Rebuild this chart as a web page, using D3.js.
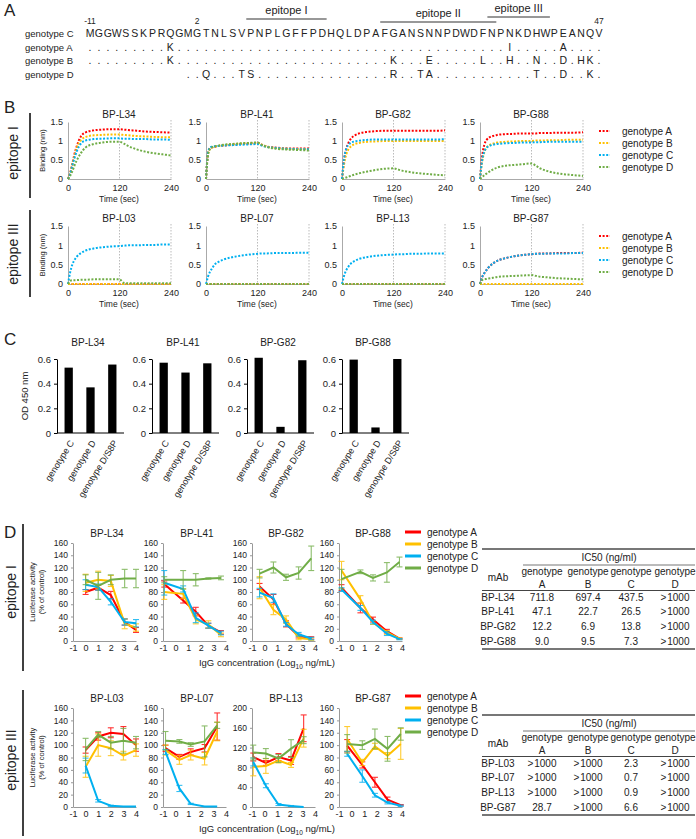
<!DOCTYPE html>
<html>
<head>
<meta charset="utf-8">
<script src="https://cdn.jsdelivr.net/npm/d3@7"></script>
<style>
body { margin: 0; background: #fff; }
svg text { font-family: 'Liberation Sans', Arial, Helvetica, sans-serif; fill: #222; }
</style>
</head>
<body>
<div id="fig"></div>
<script>
// ---------- data ----------
var genoNames = ['genotype A', 'genotype B', 'genotype C', 'genotype D']
var genoColors = ['#ff0000', '#ffc000', '#00b0f0', '#70ad47']

// A: preS1 alignment (index 0 = residue -11)
var seqRef = 'MGGWSSKPRQGMGTNLSVPNPLGFFPDHQLDPAFGANSNNPDWDFNPNKDHWPEANQV'
var alignRows = ['genotype C', 'genotype A', 'genotype B', 'genotype D']
var alignStart = [0, 0, 0, 11]
var alignSubs = [
  {},
  { 9: 'K', 47: 'I', 53: 'A' },
  { 9: 'K', 34: 'K', 38: 'E', 44: 'L', 47: 'H', 50: 'N', 53: 'D', 55: 'H', 56: 'K' },
  { 13: 'Q', 17: 'T', 18: 'S', 34: 'R', 37: 'T', 38: 'A', 50: 'T', 53: 'D', 56: 'K' }
]
var residueMarks = [{ i: 0, label: '-11' }, { i: 12, label: '2' }, { i: 57, label: '47' }]
var epitopes = [
  { name: 'epitope I', from: 18, to: 26 },
  { name: 'epitope II', from: 33, to: 45 },
  { name: 'epitope III', from: 45, to: 51 }
]

// B: binding (nm) over time (sec), series A, B, C, D
var bTimes = [0, 5, 10, 15, 20, 30, 40, 60, 80, 100, 120, 130, 140, 160, 180, 200, 220, 240]
var bindL34 = [
  [0, .15, .4, .65, .85, 1.12, 1.22, 1.28, 1.3, 1.31, 1.31, 1.3, 1.29, 1.27, 1.25, 1.24, 1.23, 1.22],
  [0, .15, .38, .6, .8, 1.02, 1.1, 1.15, 1.16, 1.17, 1.17, 1.16, 1.15, 1.13, 1.12, 1.11, 1.1, 1.1],
  [0, .13, .35, .55, .72, .93, 1.01, 1.05, 1.06, 1.07, 1.07, 1.06, 1.06, 1.05, 1.05, 1.04, 1.04, 1.03],
  [0, .08, .2, .35, .48, .68, .82, .92, .96, .98, .98, .93, .87, .78, .72, .68, .65, .62]
]
var bindL41 = [
  [0, .7, .82, .84, .85, .87, .88, .9, .92, .93, .94, .9, .86, .83, .81, .8, .8, .8],
  [0, .68, .8, .83, .85, .87, .89, .91, .93, .94, .95, .9, .86, .82, .8, .79, .79, .78],
  [0, .72, .83, .85, .86, .87, .88, .89, .9, .91, .92, .88, .85, .82, .8, .79, .78, .78],
  [0, .65, .8, .84, .86, .88, .9, .92, .94, .95, .96, .9, .85, .8, .78, .77, .76, .75]
]
var bindG82 = [
  [0, .5, .8, .95, 1.05, 1.15, 1.2, 1.24, 1.26, 1.27, 1.27, 1.27, 1.27, 1.27, 1.27, 1.27, 1.27, 1.28],
  [0, .4, .65, .78, .85, .92, .95, .98, .99, 1.0, 1.0, 1.0, 1.0, 1.0, 1.0, 1.0, 1.0, 1.0],
  [0, .55, .8, .9, .95, .99, 1.01, 1.03, 1.04, 1.04, 1.04, 1.04, 1.04, 1.04, 1.04, 1.04, 1.04, 1.05],
  [0, .02, .04, .06, .08, .12, .15, .2, .24, .27, .28, .25, .22, .18, .15, .13, .11, .1]
]
var bindG88 = [
  [0, .6, .9, 1.02, 1.08, 1.13, 1.16, 1.18, 1.19, 1.2, 1.2, 1.2, 1.21, 1.21, 1.22, 1.22, 1.22, 1.23],
  [0, .45, .7, .82, .88, .93, .96, .98, .99, 1.0, 1.0, 1.01, 1.01, 1.02, 1.02, 1.03, 1.03, 1.03],
  [0, .5, .72, .82, .86, .9, .92, .94, .95, .96, .96, .97, .97, .98, .98, .98, .98, .98],
  [0, .05, .1, .14, .18, .25, .3, .35, .37, .39, .41, .35, .28, .2, .15, .12, .1, .08]
]
var bindL03 = [
  [0, 0, 0, 0, 0, 0, 0, 0, 0, 0, 0, 0, 0, 0, 0, 0, 0, 0],
  [0, 0, 0, 0, 0, 0, 0, 0, 0, 0, 0, 0, 0, 0, 0, 0, 0, 0],
  [0, .3, .5, .62, .7, .8, .86, .92, .95, .97, .98, .99, 1.0, 1.0, 1.01, 1.01, 1.02, 1.02],
  [0, .08, .1, .1, .1, .11, .11, .12, .12, .12, .12, .03, .02, .02, .02, .02, .02, .02]
]
var bindL07 = [
  [0, 0, 0, 0, 0, 0, 0, 0, 0, 0, 0, 0, 0, 0, 0, 0, 0, 0],
  [0, 0, 0, 0, 0, 0, 0, 0, 0, 0, 0, 0, 0, 0, 0, 0, 0, 0],
  [0, .2, .33, .42, .5, .58, .63, .69, .73, .76, .78, .79, .79, .8, .8, .8, .81, .81],
  [0, 0, 0, 0, 0, 0, 0, 0, 0, 0, 0, 0, 0, 0, 0, 0, 0, 0]
]
var bindL13 = [
  [0, 0, 0, 0, 0, 0, 0, 0, 0, 0, 0, 0, 0, 0, 0, 0, 0, 0],
  [0, 0, 0, 0, 0, 0, 0, 0, 0, 0, 0, 0, 0, 0, 0, 0, 0, 0],
  [0, .22, .36, .45, .52, .6, .65, .7, .73, .75, .76, .77, .77, .78, .78, .79, .79, .79],
  [0, 0, 0, 0, 0, 0, 0, 0, 0, 0, 0, 0, 0, 0, 0, 0, 0, 0]
]
var bindG87 = [
  [0, .18, .28, .36, .43, .53, .6, .67, .72, .75, .77, .78, .79, .79, .8, .8, .8, .81],
  [0, 0, 0, 0, 0, 0, 0, 0, 0, 0, 0, 0, 0, 0, 0, 0, 0, 0],
  [0, .18, .28, .36, .43, .53, .6, .67, .72, .75, .77, .78, .78, .79, .79, .79, .8, .8],
  [0, .1, .12, .13, .14, .16, .18, .2, .21, .22, .23, .21, .19, .17, .15, .14, .13, .12]
]

// C: OD 450 nm
var odCats = ['genotype C', 'genotype D', 'genotype D/S8P']
var odMabs = ['BP-L34', 'BP-L41', 'BP-G82', 'BP-G88']
var odValues = [
  [0.53, 0.37, 0.555],
  [0.57, 0.49, 0.565],
  [0.61, 0.05, 0.59],
  [0.595, 0.045, 0.60]
]

// D: luciferase activity (% of control) vs log10 IgG
var neutL34x = [0, 1, 2, 3.1, 4]
var neutL34 = [[80, 87, 75, 31, 18], [95, 100, 98, 28, 22], [92, 88, 64, 31, 29], [100, 90, 100, 102, 102]]
var neutL34err = [[4, 4, 6, 5, 4], [14, 14, 9, 8, 6], [8, 5, 5, 5, 6], [8, 22, 8, 15, 15]]
var neutL41x = [-0.9, 0.6, 1.6, 2.6, 3.6]
var neutL41 = [[93, 66, 48, 25, 14], [80, 77, 35, 27, 10], [95, 85, 38, 25, 13], [100, 100, 100, 102, 103]]
var neutL41err = [[5, 4, 7, 4, 3], [12, 8, 7, 6, 3], [20, 5, 8, 4, 3], [5, 15, 10, 1, 3]]
var neutG82x = [-0.4, 0.7, 1.7, 2.7, 3.7]
var neutG82 = [[89, 68, 28, 8, 5], [87, 51, 35, 5, 3], [79, 70, 27, 11, 4], [110, 120, 104, 111, 135]]
var neutG82err = [[5, 8, 5, 3, 2], [18, 8, 6, 3, 2], [7, 7, 3, 3, 2], [7, 9, 5, 10, 20]]
var neutG88x = [-0.8, 0.7, 1.7, 2.8, 3.8]
var neutG88 = [[87, 54, 35, 16, 4], [115, 68, 30, 14, 4], [84, 54, 31, 12, 3], [101, 113, 103, 112, 129]]
var neutG88err = [[5, 8, 4, 3, 1], [15, 6, 3, 3, 1], [3, 4, 3, 3, 1], [16, 3, 5, 16, 8]]
var neutL03x = [0, 1, 2, 3, 4]
var neutL03 = [[92, 114, 120, 118, 100], [65, 100, 95, 83, 92], [67, 10, 2, 1, 1], [93, 117, 104, 107, 104]]
var neutL03err = [[5, 6, 8, 12, 10], [17, 18, 12, 7, 10], [12, 2, 1, 0, 0], [18, 5, 10, 20, 10]]
var neutL07x = [-0.8, 0.3, 1.2, 2.3, 3.3]
var neutL07 = [[95, 81, 89, 95, 130], [92, 76, 84, 78, 122], [89, 30, 5, 1, 1], [107, 106, 101, 106, 132]]
var neutL07err = [[5, 4, 5, 6, 22], [8, 7, 8, 10, 15], [4, 5, 1, 0, 0], [15, 3, 3, 25, 5]]
var neutL13x = [-0.9, 0.1, 1.1, 2.1, 3.1]
var neutL13 = [[101, 89, 101, 94, 159], [81, 83, 94, 85, 139], [91, 43, 5, 2, 0], [110, 108, 98, 118, 135]]
var neutL13err = [[8, 5, 7, 8, 27], [18, 15, 5, 5, 18], [8, 4, 2, 1, 0], [15, 10, 8, 18, 7]]
var neutG87x = [-0.35, 0.85, 1.85, 2.85, 3.9]
var neutG87 = [[99, 68, 40, 12, 3], [110, 72, 98, 83, 102], [86, 50, 19, 7, 2], [102, 100, 110, 94, 118]]
var neutG87err = [[10, 5, 8, 4, 1], [20, 5, 5, 5, 25], [4, 10, 3, 2, 1], [15, 7, 16, 20, 10]]

// IC50 tables
var icHead = ['A', 'B', 'C', 'D']
var icMabs1 = ['BP-L34', 'BP-L41', 'BP-G82', 'BP-G88']
var icVals1 = [
  ['711.8', '697.4', '437.5', '>1000'],
  ['47.1', '22.7', '26.5', '>1000'],
  ['12.2', '6.9', '13.8', '>1000'],
  ['9.0', '9.5', '7.3', '>1000']
]
var icMabs3 = ['BP-L03', 'BP-L07', 'BP-L13', 'BP-G87']
var icVals3 = [
  ['>1000', '>1000', '2.3', '>1000'],
  ['>1000', '>1000', '0.7', '>1000'],
  ['>1000', '>1000', '0.9', '>1000'],
  ['28.7', '>1000', '6.6', '>1000']
]

// ---------- svg ----------
var svg = d3.select('#fig')
  .append('svg')
    .attr('width', 696)
    .attr('height', 839)

svg.append('rect').attr('width', 696).attr('height', 839).attr('fill', '#fff')

function txt(g, x, y, s, size, anchor) {
  return g.append('text')
    .attr('x', x).attr('y', y)
    .attr('text-anchor', anchor || 'start')
    .style('font-size', size + 'px')
    .text(s)
}

function vtxt(g, x, y, s, size) {
  return g.append('text')
    .attr('transform', 'translate(' + x + ',' + y + ') rotate(-90)')
    .attr('text-anchor', 'middle')
    .style('font-size', size + 'px')
    .text(s)
}

function styleAxis(a, color, size) {
  a.select('.domain').attr('stroke', color)
  a.selectAll('.tick line').attr('stroke', color)
  a.selectAll('.tick text').style('font-size', size + 'px')
}

// panel letters
txt(svg, 4, 16, 'A', 17)
txt(svg, 4, 113, 'B', 17)
txt(svg, 4, 345, 'C', 17)
txt(svg, 4, 538, 'D', 17)

// ---------- A ----------
var charX = d3.scaleLinear().domain([0, 57]).range([90, 599])
var rowY = d3.scalePoint().domain(alignRows).range([37, 78])
var gA = svg.append('g')

alignRows.forEach(function(name, r) {
  txt(gA, 25, rowY(name), name, 9.5)
  var chars = d3.range(alignStart[r], seqRef.length).map(function(i) {
    return { i: i, c: r === 0 ? seqRef[i] : (alignSubs[r][i] || '.') }
  })
  gA.selectAll('.row' + r)
      .data(chars).enter()
    .append('text')
      .attr('x', function(d) { return charX(d.i) })
      .attr('y', rowY(name))
      .attr('text-anchor', 'middle')
      .style('font-size', '10.5px')
      .text(function(d) { return d.c })
})

gA.selectAll('.mark')
    .data(residueMarks).enter()
  .append('text')
    .attr('x', function(d) { return charX(d.i) })
    .attr('y', 24)
    .attr('text-anchor', 'middle')
    .style('font-size', '8.5px')
    .text(function(d) { return d.label })

var epiLineY = [19, 22, 17]
epitopes.forEach(function(e, k) {
  var x1 = charX(e.from - 0.5), x2 = charX(e.to + 0.5)
  gA.append('line')
    .attr('x1', x1).attr('x2', x2)
    .attr('y1', epiLineY[k]).attr('y2', epiLineY[k])
    .attr('stroke', '#333').attr('stroke-width', 1.2)
  txt(gA, (x1 + x2) / 2, epiLineY[k] - 5, e.name, 11, 'middle')
})

// ---------- B ----------
var bX0 = [68, 206, 342, 480]
var bRowTop = [122, 226]
var bRowZero = [179, 284]
var bPanels = [
  [['BP-L34', bindL34], ['BP-L41', bindL41], ['BP-G82', bindG82], ['BP-G88', bindG88]],
  [['BP-L03', bindL03], ['BP-L07', bindL07], ['BP-L13', bindL13], ['BP-G87', bindG87]]
]

function drawBinding(title, series, col, row) {
  var x0 = bX0[col], yT = bRowTop[row], yZ = bRowZero[row]
  var x = d3.scaleLinear().domain([0, 240]).range([x0, x0 + 103])
  var y = d3.scaleLinear().domain([0, 1.5]).range([yZ, yT])
  var g = svg.append('g')

  g.selectAll('.grid')
      .data([120, 240]).enter()
    .append('line')
      .attr('x1', function(d) { return x(d) })
      .attr('x2', function(d) { return x(d) })
      .attr('y1', yT - 2).attr('y2', yZ)
      .attr('stroke', '#aaa').attr('stroke-width', 0.8)
      .attr('stroke-dasharray', '1.5,1.5')

  var ya = g.append('g')
    .attr('transform', 'translate(' + x0 + ',0)')
    .call(d3.axisLeft(y).tickValues([0, 0.5, 1, 1.5]).tickSize(0).tickSizeOuter(0).tickPadding(5).tickFormat(d3.format('~g')))
  var xa = g.append('g')
    .attr('transform', 'translate(0,' + yZ + ')')
    .call(d3.axisBottom(x).tickValues([0, 120, 240]).tickSize(0).tickSizeOuter(0).tickPadding(6))
  styleAxis(ya, '#aaa', 9)
  styleAxis(xa, '#aaa', 9)

  txt(g, x0 + 51, yT - 4, title, 10, 'middle')
  txt(g, x0 + 51, yZ + 23, 'Time (sec)', 8.5, 'middle')
  if (col === 0) vtxt(g, x0 - 23, (yT + yZ) / 2, 'Binding (nm)', 7.5)

  var line = d3.line()
    .x(function(d, i) { return x(bTimes[i]) })
    .y(function(d) { return y(d) })
    .curve(d3.curveMonotoneX)

  series.forEach(function(s, k) {
    g.append('path')
      .datum(s)
      .attr('d', line)
      .attr('fill', 'none')
      .attr('stroke', genoColors[k])
      .attr('stroke-width', 2)
      .attr('stroke-dasharray', '2,1.6')
  })
}

bPanels.forEach(function(rowPanels, row) {
  rowPanels.forEach(function(p, col) { drawBinding(p[0], p[1], col, row) })
})

var bLegendY = [[131, 143, 155, 167], [236, 248, 260, 272]]
bLegendY.forEach(function(ys) {
  genoNames.forEach(function(n, k) {
    svg.append('line')
      .attr('x1', 599).attr('x2', 610)
      .attr('y1', ys[k]).attr('y2', ys[k])
      .attr('stroke', genoColors[k]).attr('stroke-width', 2.2)
      .attr('stroke-dasharray', '2,1.6')
    txt(svg, 622, ys[k] + 3.5, n, 10)
  })
})

// epitope group markers B
svg.append('line').attr('x1', 30).attr('x2', 30).attr('y1', 113).attr('y2', 198).attr('stroke', '#000').attr('stroke-width', 1.5)
svg.append('line').attr('x1', 30).attr('x2', 30).attr('y1', 210).attr('y2', 297).attr('stroke', '#000').attr('stroke-width', 1.5)
vtxt(svg, 18, 153, 'epitope I', 14)
vtxt(svg, 18, 254, 'epitope III', 14)

// ---------- C ----------
var cX0 = [57, 152, 247, 342]
var cTop = 359, cZero = 433

function drawBars(title, vals, col) {
  var x0 = cX0[col]
  var x = d3.scaleBand().domain(odCats).range([x0 + 1, x0 + 66]).paddingInner(0.62).paddingOuter(0.3)
  var y = d3.scaleLinear().domain([0, 0.6]).range([cZero, cTop])
  var g = svg.append('g')

  var ya = g.append('g')
    .attr('transform', 'translate(' + x0 + ',0)')
    .call(d3.axisLeft(y).tickValues([0, 0.2, 0.4, 0.6]).tickSize(3).tickSizeOuter(0).tickPadding(3)
      .tickFormat(function(d) { return d === 0 ? '0' : d3.format('.1f')(d) }))
  styleAxis(ya, '#000', 9.5)
  g.append('line')
    .attr('x1', x0).attr('x2', x0 + 67)
    .attr('y1', cZero).attr('y2', cZero)
    .attr('stroke', '#000')

  g.selectAll('.bar')
      .data(vals).enter()
    .append('rect')
      .attr('x', function(d, i) { return x(odCats[i]) })
      .attr('y', function(d) { return y(d) })
      .attr('width', x.bandwidth())
      .attr('height', function(d) { return cZero - y(d) })
      .attr('fill', '#000')

  odCats.forEach(function(c) {
    g.append('text')
      .attr('transform', 'translate(' + (x(c) + x.bandwidth() / 2 + 3) + ',' + (cZero + 8) + ') rotate(-58)')
      .attr('text-anchor', 'end')
      .attr('dy', '0.35em')
      .style('font-size', '9px')
      .text(c)
  })

  txt(g, x0 + 31, 346, title, 10, 'middle')
}

odMabs.forEach(function(m, i) { drawBars(m, odValues[i], i) })
vtxt(svg, 28, 396, 'OD 450 nm', 9.5)

// ---------- D ----------
var dX0 = [73, 163, 252, 339]
var dRowTop = [543, 708]
var dRowZero = [641, 807]
var dPanels = [
  [['BP-L34', neutL34x, neutL34, neutL34err, 160], ['BP-L41', neutL41x, neutL41, neutL41err, 160],
   ['BP-G82', neutG82x, neutG82, neutG82err, 160], ['BP-G88', neutG88x, neutG88, neutG88err, 160]],
  [['BP-L03', neutL03x, neutL03, neutL03err, 160], ['BP-L07', neutL07x, neutL07, neutL07err, 160],
   ['BP-L13', neutL13x, neutL13, neutL13err, 200], ['BP-G87', neutG87x, neutG87, neutG87err, 160]]
]

function drawNeut(p, col, row) {
  var title = p[0], xs = p[1], vals = p[2], errs = p[3], yMax = p[4]
  var x0 = dX0[col], yT = dRowTop[row], yZ = dRowZero[row]
  var x = d3.scaleLinear().domain([-1, 4]).range([x0, x0 + 63])
  var y = d3.scaleLinear().domain([0, yMax]).range([yZ, yT])
  var g = svg.append('g')

  var ya = g.append('g')
    .attr('transform', 'translate(' + x0 + ',0)')
    .call(d3.axisLeft(y).tickValues(d3.range(0, yMax + 1, yMax === 200 ? 40 : 20)).tickSize(2).tickSizeOuter(0).tickPadding(3)
      .tickFormat(d3.format('d')))
  var xa = g.append('g')
    .attr('transform', 'translate(0,' + yZ + ')')
    .call(d3.axisBottom(x).tickValues([-1, 0, 1, 2, 3, 4]).tickSize(0).tickSizeOuter(0).tickPadding(4)
      .tickFormat(function(d) { return d < 0 ? '-' + Math.abs(d) : String(d) }))
  styleAxis(ya, '#999', 8.5)
  styleAxis(xa, '#999', 9)

  txt(g, x0 + 34, yT - 6, title, 10, 'middle')

  var line = d3.line()
    .x(function(d, i) { return x(xs[i]) })
    .y(function(d) { return y(d) })

  vals.forEach(function(s, k) {
    var pts = s.map(function(v, i) { return { x: xs[i], v: v, e: errs[k][i] } })
    var eg = g.append('g').attr('stroke', genoColors[k]).attr('stroke-width', 1.1).attr('opacity', 0.8)
    pts.forEach(function(d) {
      if (d.e <= 0) return
      var cx = x(d.x)
      eg.append('line').attr('x1', cx).attr('x2', cx).attr('y1', y(d.v - d.e)).attr('y2', y(d.v + d.e))
      eg.append('line').attr('x1', cx - 3).attr('x2', cx + 3).attr('y1', y(d.v - d.e)).attr('y2', y(d.v - d.e))
      eg.append('line').attr('x1', cx - 3).attr('x2', cx + 3).attr('y1', y(d.v + d.e)).attr('y2', y(d.v + d.e))
    })
    g.append('path')
      .datum(s)
      .attr('d', line)
      .attr('fill', 'none')
      .attr('stroke', genoColors[k])
      .attr('stroke-width', 2)
  })

  if (col === 0) {
    vtxt(g, x0 - 38, (yT + yZ) / 2, 'Luciferase activity', 7.5)
    vtxt(g, x0 - 29, (yT + yZ) / 2, '(% of control)', 7.5)
  }
}

dPanels.forEach(function(rowPanels, row) {
  rowPanels.forEach(function(p, col) { drawNeut(p, col, row) })
  var xl = svg.append('text')
    .attr('x', 267).attr('y', dRowZero[row] + 25)
    .attr('text-anchor', 'middle')
    .style('font-size', '9.5px')
  xl.append('tspan').text('IgG concentration (Log')
  xl.append('tspan').attr('dy', 2.5).style('font-size', '6.5px').text('10')
  xl.append('tspan').attr('dy', -2.5).text(' ng/mL)')
})

var dLegendY = [[532, 544, 556, 568], [696, 708, 720, 732]]
dLegendY.forEach(function(ys) {
  genoNames.forEach(function(n, k) {
    svg.append('line')
      .attr('x1', 405).attr('x2', 421)
      .attr('y1', ys[k]).attr('y2', ys[k])
      .attr('stroke', genoColors[k]).attr('stroke-width', 3)
    txt(svg, 427, ys[k] + 3.5, n, 10)
  })
})

svg.append('line').attr('x1', 23).attr('x2', 23).attr('y1', 524).attr('y2', 671).attr('stroke', '#000').attr('stroke-width', 1.5)
svg.append('line').attr('x1', 23).attr('x2', 23).attr('y1', 690).attr('y2', 836).attr('stroke', '#000').attr('stroke-width', 1.5)
vtxt(svg, 16, 592, 'epitope I', 14)
vtxt(svg, 16, 760, 'epitope III', 14)

// IC50 tables
var tColX = [498, 542, 588, 631, 675]

function drawTable(mabs, vals, T) {
  var g = svg.append('g')
  g.append('line').attr('x1', 482).attr('x2', 695).attr('y1', T).attr('y2', T).attr('stroke', '#777').attr('stroke-width', 1.8)
  txt(g, 609, T + 12, 'IC50 (ng/ml)', 10, 'middle')
  g.append('line').attr('x1', 523).attr('x2', 695).attr('y1', T + 16).attr('y2', T + 16).attr('stroke', '#777').attr('stroke-width', 1)
  txt(g, tColX[0], T + 32, 'mAb', 10, 'middle')
  icHead.forEach(function(h, j) {
    txt(g, tColX[j + 1], T + 26, 'genotype', 10, 'middle')
    txt(g, tColX[j + 1], T + 39, h, 10, 'middle')
  })
  g.append('line').attr('x1', 482).attr('x2', 695).attr('y1', T + 41.5).attr('y2', T + 41.5).attr('stroke', '#444').attr('stroke-width', 1)
  mabs.forEach(function(m, i) {
    var yy = T + 51.5 + i * 14.7
    txt(g, tColX[0], yy, m, 10, 'middle')
    vals[i].forEach(function(v, j) {
      txt(g, tColX[j + 1], yy, v.replace('>', '>\u200a'), 10, 'middle')
    })
  })
  g.append('line').attr('x1', 482).attr('x2', 695).attr('y1', T + 100).attr('y2', T + 100).attr('stroke', '#777').attr('stroke-width', 1.8)
}

drawTable(icMabs1, icVals1, 549)
drawTable(icMabs3, icVals3, 715)
</script>
</body>
</html>
